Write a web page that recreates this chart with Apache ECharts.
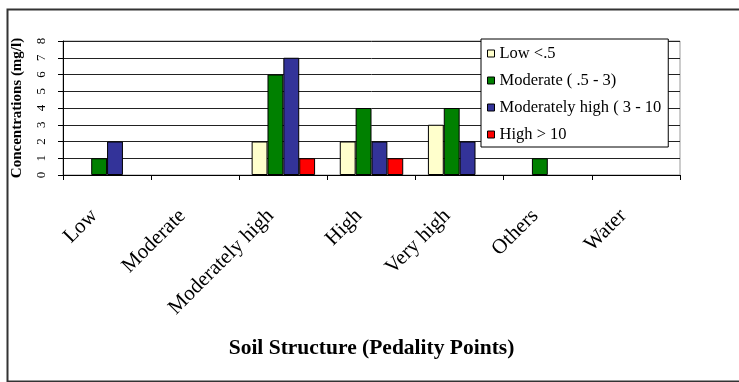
<!DOCTYPE html>
<html>
<head>
<meta charset="utf-8">
<script src="https://cdn.jsdelivr.net/npm/echarts@6/dist/echarts.min.js"></script>
<style>
  html, body { margin: 0; padding: 0; background: #fff; }
  #chart { width: 739px; height: 382px; }
</style>
</head>
<body>
<div id="chart"></div>
<script>
// Soil structure classes along the x axis
const categories = ['Low', 'Moderate', 'Moderately high', 'High', 'Very high', 'Others', 'Water'];

// Concentration classes (mg/l) and the counts per soil structure class
const seriesNames = ['Low <.5', 'Moderate ( .5 - 3)', 'Moderately high ( 3 - 10', 'High > 10'];
const lowValues          = [0, 0, 2, 2, 3, 0, 0];
const moderateValues     = [1, 0, 6, 4, 4, 1, 0];
const modHighValues      = [2, 0, 7, 2, 2, 0, 0];
const highValues         = [0, 0, 1, 1, 0, 0, 0];

const yTicks = [0, 1, 2, 3, 4, 5, 6, 7, 8];

const colors = ['#FFFFCC', '#008000', '#333399', '#FF0000'];
const FONT = '"Liberation Serif", "Times New Roman", serif';

const valueSets = [lowValues, moderateValues, modHighValues, highValues];

const chart = echarts.init(document.getElementById('chart'), null, { renderer: 'canvas' });

chart.setOption({
  animation: false,
  backgroundColor: '#fff',
  textStyle: { fontFamily: FONT, color: '#000' },
  grid: {
    left: 63, top: 41, width: 617, height: 134,
    show: true, borderColor: '#999', borderWidth: 1, containLabel: false
  },
  graphic: [{
    type: 'rect',
    left: 5, top: 7,
    shape: { width: 740, height: 372 },
    style: { fill: 'none', stroke: '#333', lineWidth: 2 },
    silent: true
  }],
  legend: {
    orient: 'vertical',
    left: 481, top: 39,
    backgroundColor: '#fff',
    borderColor: '#000', borderWidth: 1,
    padding: [6, 7, 4, 6],
    itemWidth: 7, itemHeight: 7,
    itemGap: 10,
    icon: 'rect',
    itemStyle: { borderColor: '#000', borderWidth: 1 },
    textStyle: { fontFamily: FONT, fontSize: 16.5, color: '#000', lineHeight: 16, padding: [0, 0, 0, 0] },
    data: seriesNames
  },
  xAxis: {
    type: 'category',
    data: categories,
    boundaryGap: true,
    name: 'Soil Structure (Pedality Points)',
    nameLocation: 'middle',
    nameGap: 162,
    nameTextStyle: { fontFamily: FONT, fontSize: 21.5, fontWeight: 'bold', color: '#000' },
    axisLine: { show: true, lineStyle: { color: '#000', width: 1 } },
    axisTick: { show: true, alignWithLabel: false, length: 5, lineStyle: { color: '#000' } },
    axisLabel: {
      rotate: 45, margin: 25, padding: [0, 18, 0, 0],
      fontFamily: FONT, fontSize: 21, color: '#000', interval: 0
    },
    splitLine: { show: false }
  },
  yAxis: {
    type: 'value',
    min: 0, max: 8, interval: 1,
    name: 'Concentrations (mg/l)',
    nameLocation: 'middle',
    nameRotate: 90,
    nameGap: 38,
    nameTextStyle: { fontFamily: FONT, fontSize: 15, fontWeight: 'bold', color: '#000' },
    axisLine: { show: true, lineStyle: { color: '#000', width: 1 } },
    axisTick: { show: true, inside: false, length: 5, lineStyle: { color: '#000' } },
    axisLabel: {
      rotate: 90, margin: 15, fontFamily: FONT, fontSize: 13, color: '#000',
      formatter: v => (yTicks.includes(v) ? String(v) : '')
    },
    splitLine: { show: true, lineStyle: { color: '#222', width: 1 } }
  },
  series: seriesNames.map((name, i) => ({
    name,
    type: 'bar',
    // empty cells (zero counts) draw no bar
    data: valueSets[i].map(v => (v === 0 ? null : v)),
    barGap: '0%',
    barCategoryGap: '28%',
    itemStyle: { color: colors[i], borderColor: '#000', borderWidth: 1 }
  }))
});
</script>
</body>
</html>
